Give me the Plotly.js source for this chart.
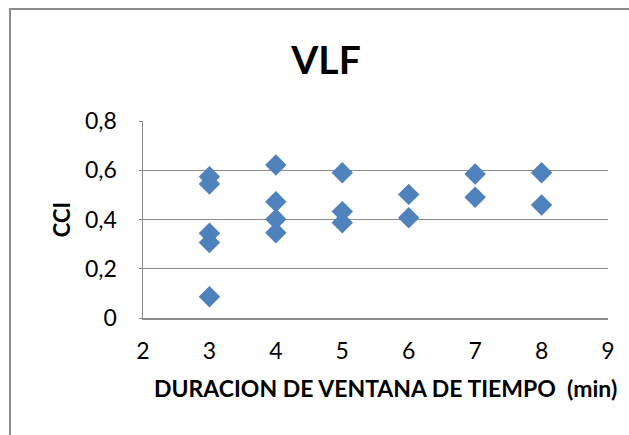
<!DOCTYPE html>
<html>
<head>
<meta charset="utf-8">
<script src="https://cdn.plot.ly/plotly-3.0.1.min.js"></script>
<style>
html,body{margin:0;padding:0;background:#fff;}
#wrap{position:relative;width:629px;height:435px;overflow:hidden;}
#chart{width:629px;height:435px;}
#frame{position:absolute;left:9px;top:8px;width:700px;height:500px;border-left:2px solid #8c8c8c;border-top:2px solid #8c8c8c;pointer-events:none;}
</style>
</head>
<body>
<div id="wrap"><div id="chart"></div><div id="frame"></div></div>
<script>
const duracion = [3, 3, 3, 3, 3, 4, 4, 4, 4, 5, 5, 5, 6, 6, 7, 7, 8, 8];
const cci = [0.574, 0.544, 0.344, 0.307, 0.086, 0.621, 0.472, 0.401, 0.346, 0.590, 0.432, 0.387, 0.502, 0.407, 0.585, 0.490, 0.590, 0.459];
const titulo = 'VLF';
const tituloX = 'DURACION DE VENTANA DE TIEMPO  (min)';
const tituloY = 'CCI';
const xTicks = [2, 3, 4, 5, 6, 7, 8, 9];
const yTicks = [0, 0.2, 0.4, 0.6, 0.8];

const font = 'Lato, "Open Sans", sans-serif';
Plotly.newPlot('chart', [{
  x: duracion, y: cci, type: 'scatter', mode: 'markers',
  marker: {symbol: 'diamond', size: 16.5, color: '#4F81BD', line: {width: 0}},
  hoverinfo: 'x+y'
}], {
  width: 629, height: 435,
  margin: {l: 143, r: 21, t: 121, b: 117},
  separators: ',.',
  paper_bgcolor: '#fff', plot_bgcolor: '#fff',
  showlegend: false,
  font: {family: font, color: '#000'},
  title: {text: '<b>' + titulo + '</b>', font: {family: font, size: 39, color: '#000'},
          x: 326/629, xanchor: 'center', xref: 'container', y: 1 - 60/435, yanchor: 'middle', yref: 'container'},
  xaxis: {
    range: [2, 9], tickvals: xTicks, ticktext: xTicks.map(String),
    showgrid: false, zeroline: false, showline: true, linecolor: '#8c8c8c', linewidth: 1.5,
    ticks: '', tickfont: {family: font, size: 23, color: '#000'}, ticklabelstandoff: 12
  },
  yaxis: {
    range: [0, 0.8], tickvals: yTicks, tickformat: '.1~f',
    showgrid: true, gridcolor: '#8c8c8c', gridwidth: 1,
    zeroline: false, showline: true, linecolor: '#8c8c8c', linewidth: 1.5,
    ticks: 'outside', ticklen: 3, tickcolor: '#8c8c8c',
    tickfont: {family: font, size: 23, color: '#000'}, ticklabelstandoff: 17,
    title: {text: '<b>' + tituloY + '</b>', font: {family: font, size: 22, color: '#000'}, standoff: 8}
  },
  annotations: [{
    text: '<b>' + tituloX + '</b>', font: {family: font, size: 23, color: '#000'},
    xref: 'paper', yref: 'paper', x: (385.5 - 143) / 465, y: (318 - 388) / 197,
    xanchor: 'center', yanchor: 'middle', showarrow: false
  }]
}, {displayModeBar: false, staticPlot: true});
</script>
</body>
</html>
